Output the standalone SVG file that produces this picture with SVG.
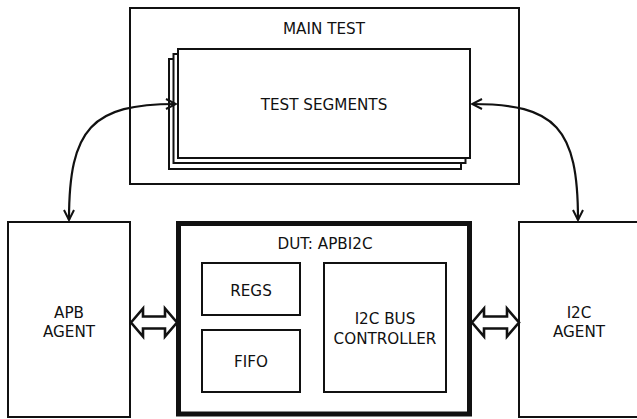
<svg xmlns="http://www.w3.org/2000/svg" width="637" height="419" viewBox="0 0 637 419">
<style>
.b{fill:#fff;stroke:#111;stroke-width:2}
.t{font-family:"DejaVu Sans",sans-serif;font-size:15.2px;fill:#111;text-anchor:middle}
.c{fill:none;stroke:#111;stroke-width:2.2}
.ba{fill:#fff;stroke:#111;stroke-width:2.6;stroke-linejoin:miter}
</style>
<defs>
<marker id="ah" viewBox="0 0 12 12" refX="11" refY="6" markerWidth="12" markerHeight="12" markerUnits="userSpaceOnUse" orient="auto-start-reverse">
<path d="M1,1 L11,6 L1,11" fill="none" stroke="#111" stroke-width="2"/>
</marker>
</defs>
<rect width="637" height="419" fill="#fff"/>
<g id="main-test">
<rect class="b" x="130" y="8" width="389" height="176"/>
<text class="t" x="324" y="34">MAIN TEST</text>
</g>
<g id="test-segments">
<rect class="b" x="169" y="59" width="292" height="110"/>
<rect class="b" x="173.5" y="54" width="292" height="109"/>
<rect class="b" x="178" y="49" width="292" height="109"/>
<text class="t" x="324" y="110">TEST SEGMENTS</text>
</g>
<g id="apb-agent">
<rect class="b" x="8" y="222" width="122" height="195"/>
<text class="t" x="69" y="318">APB</text>
<text class="t" x="69" y="337">AGENT</text>
</g>
<g id="i2c-agent">
<rect class="b" x="519" y="222" width="124" height="195"/>
<text class="t" x="579" y="318">I2C</text>
<text class="t" x="579" y="337">AGENT</text>
</g>
<g id="dut">
<rect x="178.5" y="223.5" width="291" height="190.5" fill="#fff" stroke="#111" stroke-width="5"/>
<text class="t" x="325" y="249">DUT: APBI2C</text>
</g>
<g id="regs">
<rect class="b" x="202" y="263" width="98" height="52"/>
<text class="t" x="251" y="296">REGS</text>
</g>
<g id="fifo">
<rect class="b" x="202" y="330" width="98" height="62"/>
<text class="t" x="251" y="367">FIFO</text>
</g>
<g id="i2c-bus-controller">
<rect class="b" x="324" y="263" width="122" height="129"/>
<text class="t" x="385" y="324">I2C BUS</text>
<text class="t" x="385" y="344">CONTROLLER</text>
</g>
<g id="connectors">
<path class="c" d="M69,220 C69,128 92,104 176,104" marker-start="url(#ah)" marker-end="url(#ah)"/>
<path class="c" d="M472,104 C556,104 578,128 578,220" marker-start="url(#ah)" marker-end="url(#ah)"/>
<polygon class="ba" points="131,322.5 143,308.5 143,316.5 165,316.5 165,308.5 177,322.5 165,336.5 165,328.5 143,328.5 143,336.5"/>
<polygon class="ba" points="472,322.5 484,308.5 484,316.5 507,316.5 507,308.5 519,322.5 507,336.5 507,328.5 484,328.5 484,336.5"/>
</g>
</svg>
